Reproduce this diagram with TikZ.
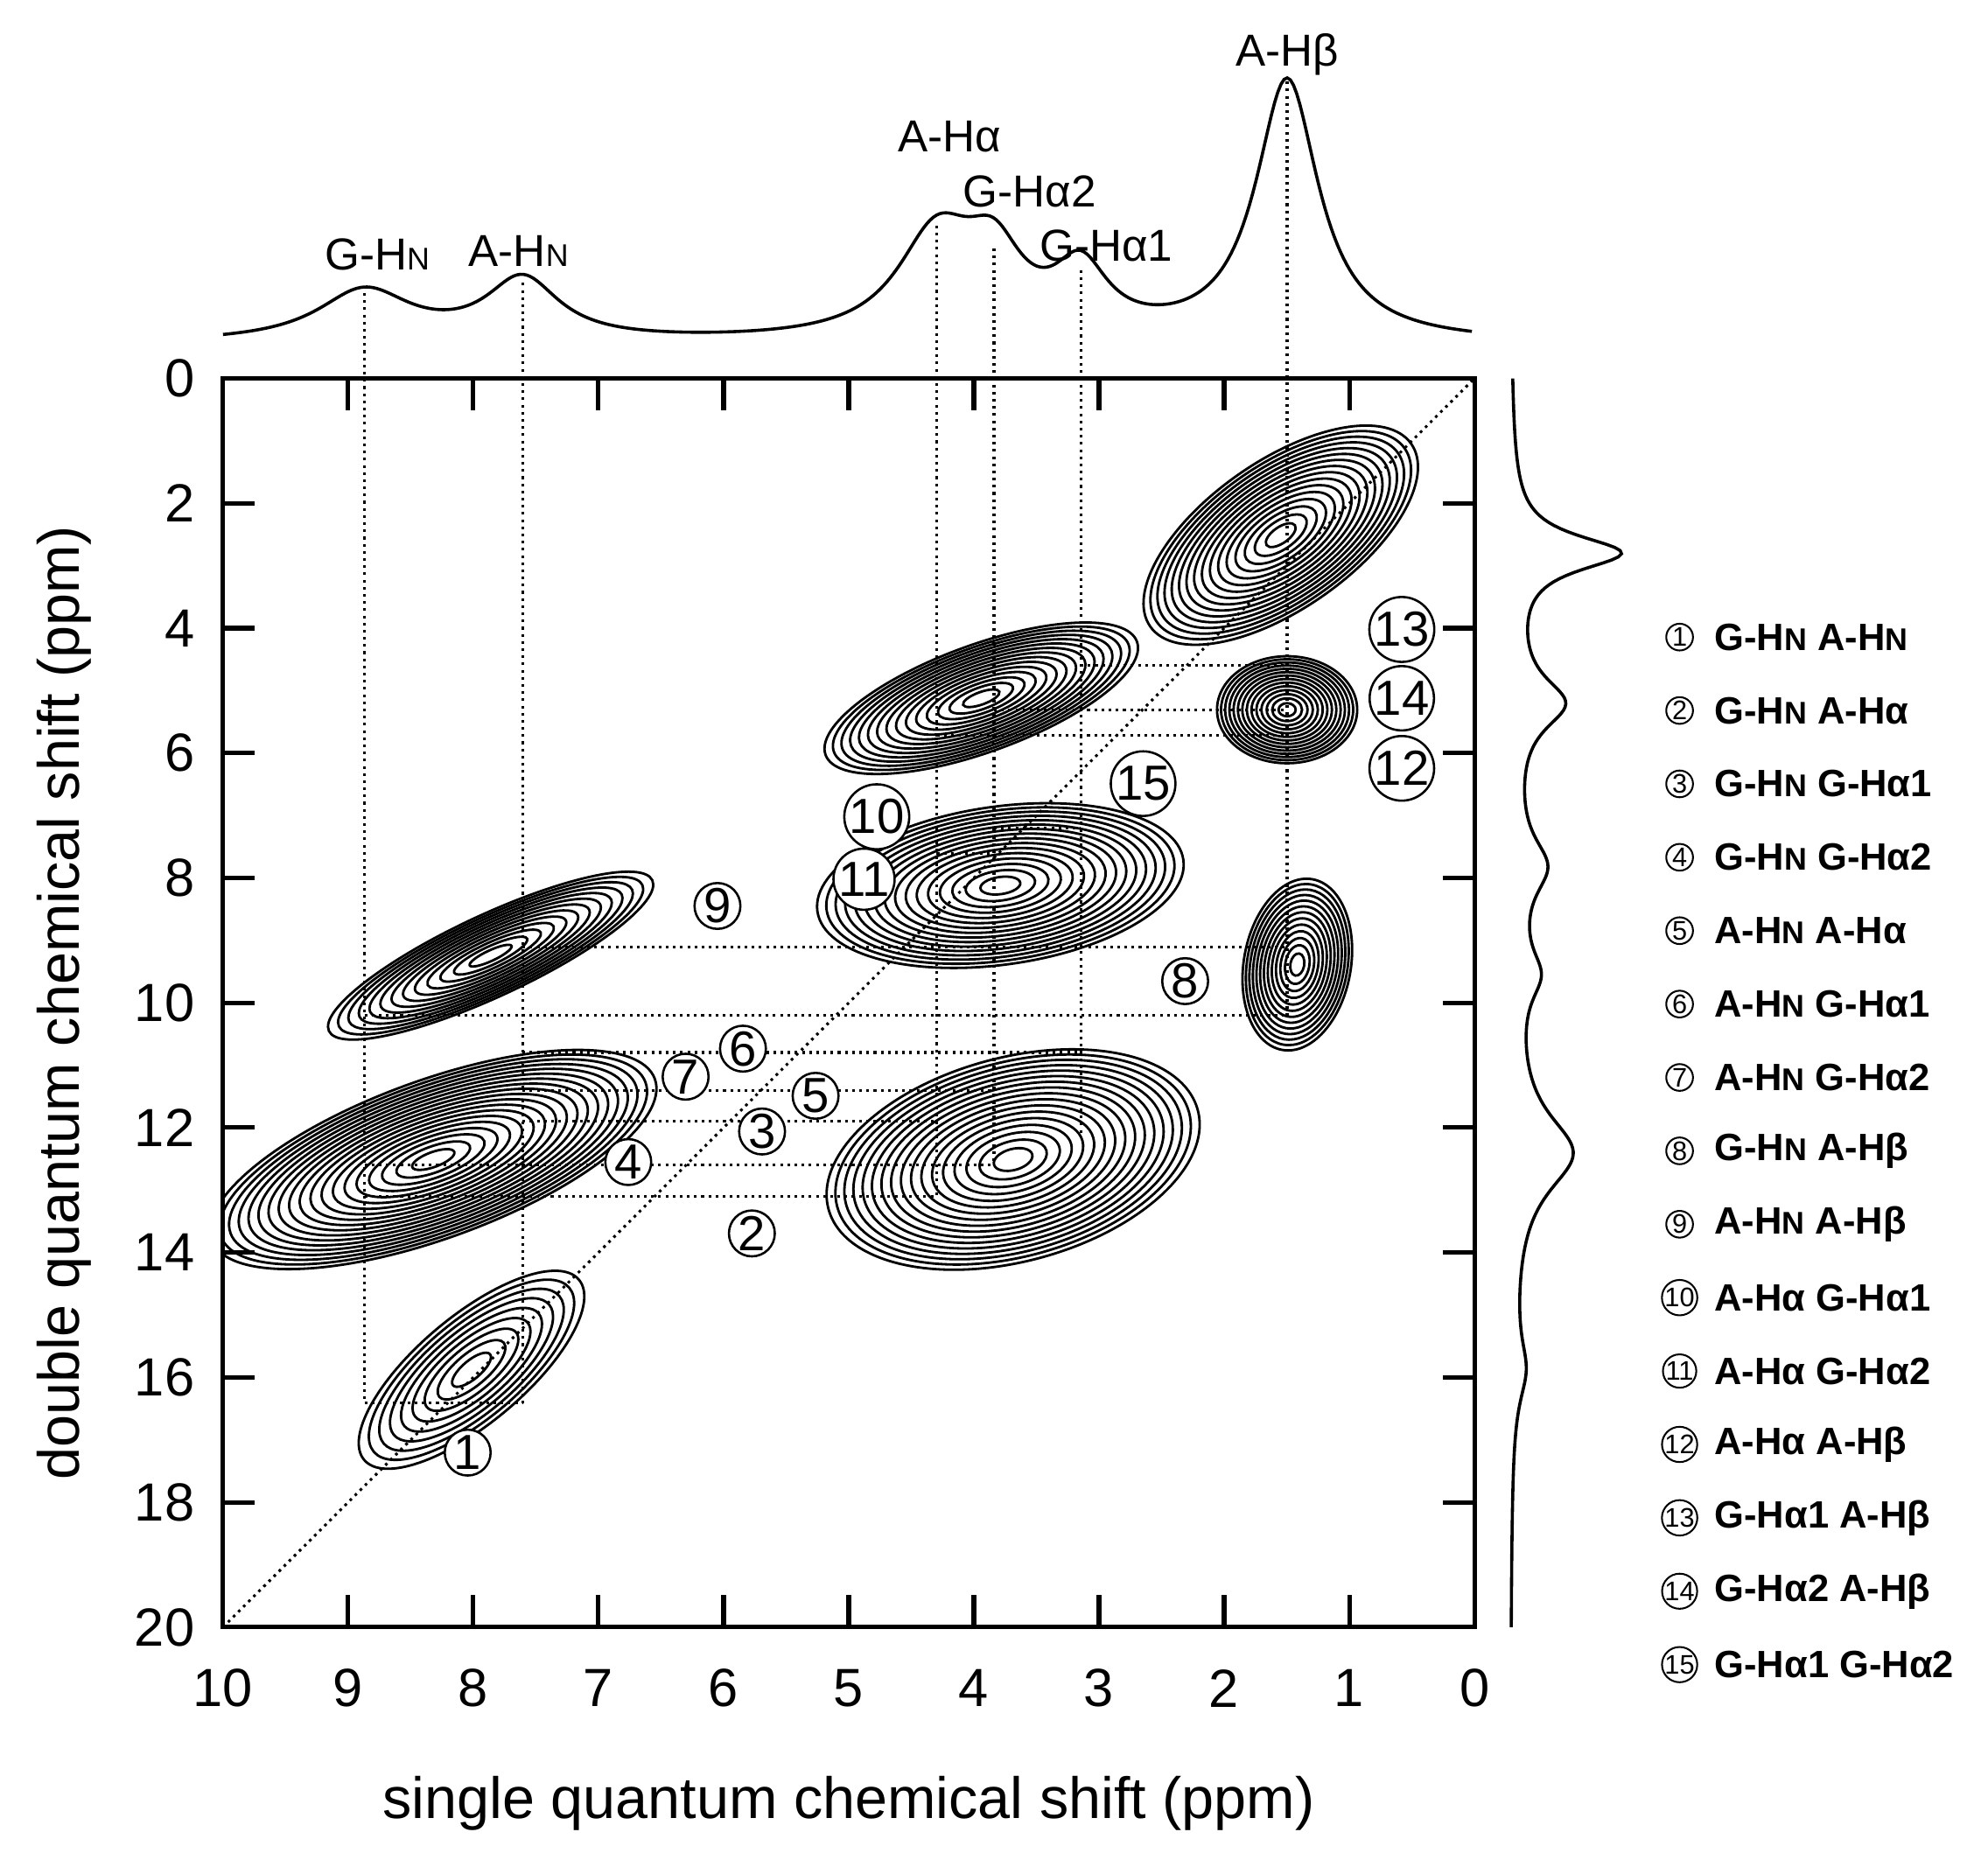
\documentclass[tikz,border=0pt]{standalone}
\usepackage{fontspec}
\setmainfont{Liberation Sans}
\begin{document}
\begin{tikzpicture}[x=0.1mm,y=-0.1mm,
  dots/.style={densely dotted,line width=0.6pt},
  cnum/.style={circle,draw,line width=0.5pt,inner sep=0pt,minimum size=3.6mm,font=\fontsize{11}{13}\selectfont},
  lnum/.style={circle,draw,line width=0.4pt,inner sep=0pt,minimum size=2.1mm,font=\fontsize{6}{7}\selectfont},
  leg/.style={anchor=west,font=\bfseries\fontsize{8.5}{10}\selectfont},
  pk/.style={font=\fontsize{10}{12}\selectfont}]
\useasboundingbox (0,0) rectangle (1560,1465);
\newcommand{\HN}{H{\scriptsize N}}
\newcommand{\myblob}[6]{\foreach \k in {1,...,#6}{\pgfmathsetmacro\ff{(\k/#6)^0.8}\draw[line width=0.55pt,rotate around={#5:(#1,#2)}] (#1,#2) ellipse ({#3*\ff} and {#4*\ff});}}
% contours
\begin{scope}
\clip (175,297) rectangle (1157,1277);
\myblob{1005}{420}{125}{58}{35}{16}
\myblob{1010}{557}{55}{42}{0}{14}
\myblob{770}{548}{130}{42}{20}{15}
\myblob{785}{695}{145}{62}{8}{16}
\myblob{1018}{757}{68}{42}{80}{13}
\myblob{385}{750}{140}{32}{25}{13}
\myblob{340}{910}{185}{62}{20}{19}
\myblob{795}{910}{150}{80}{15}{17}
\myblob{370}{1075}{110}{42}{40}{9}
\end{scope}
% frame
\draw[line width=1pt] (175,297) rectangle (1157,1277);
\foreach \v in {0,...,10}{\pgfmathsetmacro\px{1157-98.2*\v}
  \draw[line width=1pt] (\px,297)--(\px,322); \draw[line width=1pt] (\px,1277)--(\px,1252);
  \node[font=\fontsize{12}{14}\selectfont] at (\px,1325) {\v};}
\foreach \v in {0,2,...,20}{\pgfmathsetmacro\py{297+49*\v}
  \draw[line width=1pt] (175,\py)--(200,\py); \draw[line width=1pt] (1157,\py)--(1132,\py);
  \node[font=\fontsize{12}{14}\selectfont,anchor=east] at (165,\py) {\v};}
\node[font=\fontsize{13}{15}\selectfont] at (666,1415) {single quantum chemical shift (ppm)};
\node[font=\fontsize{13}{15}\selectfont,rotate=90] at (50,787) {double quantum chemical shift (ppm)};
% diagonal
\draw[dots] (175,1277)--(1157,297);
% top spectrum
\draw[line width=0.7pt] plot[domain=175:1155,samples=400] (\x,{270-40/(1+((\x-286)/45)^2)-48/(1+((\x-410)/35)^2)-80/(1+((\x-735)/38)^2)-55/(1+((\x-780)/28)^2)-50/(1+((\x-848)/26)^2)-205/(1+((\x-1010)/30)^2)});
% right spectrum
\draw[line width=0.7pt] plot[variable=\t,domain=297:1277,samples=400] ({1185+85/(1+((\t-434)/17)^2)+40/(1+((\t-552)/25)^2)+25/(1+((\t-680)/28)^2)+18/(1+((\t-765)/25)^2)+48/(1+((\t-905)/38)^2)+10/(1+((\t-1075)/30)^2)},\t);
% peak labels
\node[pk] at (296,200) {G-\HN};
\node[pk] at (407,197) {A-\HN};
\node[pk] at (745,107) {A-Hα};
\node[pk] at (808,150) {G-Hα2};
\node[pk] at (868,193) {G-Hα1};
\node[pk] at (1010,43) {A-Hβ};
% vertical dotted
\draw[dots] (286,230)--(286,1101);
\draw[dots] (410,222)--(410,1101);
\draw[dots] (735,177)--(735,939);
\draw[dots] (780,195)--(780,914);
\draw[dots] (848,212)--(848,890);
\draw[dots] (1010,64)--(1010,797);
% horizontal dotted
\foreach \a/\b/\y in {848/1010/522,780/1010/557,735/1010/577,780/848/650,735/780/670,410/1010/743,286/1010/797,410/848/826,410/780/856,410/735/880,286/780/914,286/735/939,286/410/1101}
  \draw[dots] (\a,\y)--(\b,\y);
% circled numbers
\foreach \n/\x/\y in {1/367/1140,2/590/968,3/598/888,4/493/912,5/640/860,6/583/823,7/538/845,8/930/770,9/563/711,10/688/641,11/678/690,12/1100/603,13/1100/494,14/1100/548,15/897/615}
  \node[cnum,fill=white] (c\n) at (\x,\y) {\n};
% legend
\foreach \n/\t in {1/{G-\HN{}  A-\HN},2/{G-\HN{}  A-Hα},3/{G-\HN{}  G-Hα1},4/{G-\HN{}  G-Hα2},5/{A-\HN{}  A-Hα},6/{A-\HN{}  G-Hα1},7/{A-\HN{}  G-Hα2},8/{G-\HN{}  A-Hβ},9/{A-\HN{}  A-Hβ},10/{A-Hα  G-Hα1},11/{A-Hα  G-Hα2},12/{A-Hα  A-Hβ},13/{G-Hα1  A-Hβ},14/{G-Hα2  A-Hβ},15/{G-Hα1  G-Hα2}}{
  \pgfmathsetmacro\yy{500+57.6*(\n-1)}
  \node[lnum] (l\n) at (1318,\yy) {\n};
  \node[leg] (t\n) at (1333,\yy) {\t};}
\end{tikzpicture}
\end{document}
